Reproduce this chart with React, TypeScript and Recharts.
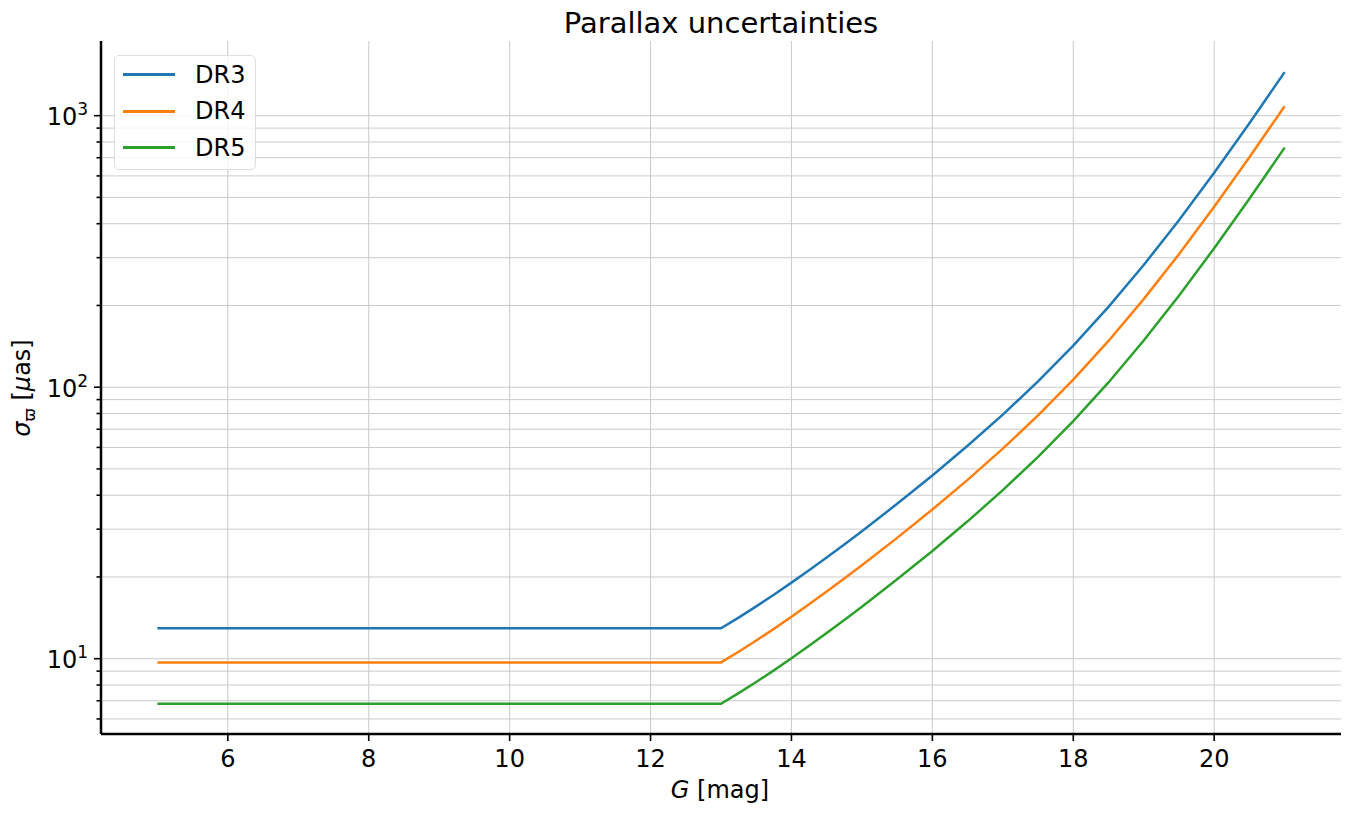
import React from 'react';
import { LineChart, Line, XAxis, YAxis, ReferenceLine } from 'recharts';

// G magnitude grid and parallax uncertainties (µas)
const gMag = [5, 13, 13.25, 13.5, 13.75, 14, 14.25, 14.5, 14.75, 15, 15.5, 16, 16.5, 17, 17.5, 18, 18.5, 19, 19.5, 20, 20.5, 21];
const dr3 = [12.94, 12.94, 14.17, 15.58, 17.2, 19.06, 21.18, 23.59, 26.35, 29.5, 37.19, 47.32, 60.83, 79.26, 105.07, 142.3, 197.6, 281.8, 412.3, 616.5, 938.3, 1447];
const dr4 = [9.69, 9.69, 10.61, 11.67, 12.88, 14.28, 15.86, 17.67, 19.74, 22.1, 27.86, 35.44, 45.56, 59.37, 78.7, 106.6, 148.0, 211.1, 308.8, 461.8, 702.8, 1083.8];
const dr5 = [6.82, 6.82, 7.47, 8.21, 9.06, 10.04, 11.16, 12.43, 13.89, 15.55, 19.6, 24.94, 32.06, 41.77, 55.37, 74.99, 104.1, 148.5, 217.3, 324.9, 494.5, 762.6];

const xTicks = [6, 8, 10, 12, 14, 16, 18, 20];
const yTicks = [6, 7, 8, 9, 10, 20, 30, 40, 50, 60, 70, 80, 90, 100, 200, 300, 400, 500, 600, 700, 800, 900, 1000];
const yMajor = [10, 100, 1000];

const series = [
  { key: 'DR3', color: '#1f77b4' },
  { key: 'DR4', color: '#ff7f0e' },
  { key: 'DR5', color: '#2ca02c' },
];

const data = gMag.map((g, i) => ({ g, DR3: dr3[i], DR4: dr4[i], DR5: dr5[i] }));

const FONT = 'DejaVu Sans';
const GRID = '#cbcbcb';
const AXIS_X = 101;
const AXIS_Y = 734;

function YTick(props: any) {
  const { y, payload } = props;
  const v = payload.value;
  const major = yMajor.includes(v);
  const len = major ? 7 : 4.5;
  return (
    <g>
      <line x1={AXIS_X - len} x2={AXIS_X} y1={y} y2={y} stroke="#000" strokeWidth={1.6} />
      {major && (
        <text x={AXIS_X - 13} y={y} dy={9.5} textAnchor="end" fontSize={24} fontFamily={FONT} fill="#000">
          10<tspan dy={-10} fontSize={17}>{Math.round(Math.log10(v))}</tspan>
        </text>
      )}
    </g>
  );
}

function XTick(props: any) {
  const { x, payload } = props;
  return (
    <g>
      <line x1={x} x2={x} y1={AXIS_Y} y2={AXIS_Y + 7} stroke="#000" strokeWidth={1.6} />
      <text x={x} y={AXIS_Y + 33} textAnchor="middle" fontSize={24} fontFamily={FONT} fill="#000">
        {payload.value}
      </text>
    </g>
  );
}

function LegendBox() {
  return (
    <div
      style={{
        position: 'absolute',
        left: 114,
        top: 55,
        width: 142,
        height: 115,
        border: '1px solid #dedede',
        borderRadius: 5,
        background: 'rgba(255,255,255,0.8)',
        boxSizing: 'border-box',
        fontFamily: FONT,
        fontSize: 24,
        paddingTop: 0.5,
      }}
    >
      {series.map((s) => (
        <div key={s.key} style={{ display: 'flex', alignItems: 'center', height: 36.5 }}>
          <div style={{ width: 52, height: 2.8, background: s.color, marginLeft: 8, marginRight: 20 }} />
          <span style={{ lineHeight: '24px' }}>{s.key}</span>
        </div>
      ))}
    </div>
  );
}

export default function App() {
  return (
    <div style={{ position: 'absolute', left: 0, top: 0, width: 1350, height: 815, background: '#fff' }}>
      <LineChart width={1350} height={815} data={data} margin={{ top: 41, right: 9, left: 0, bottom: 0 }}>
        {/* grid at tick values only, no frame lines on the plot edges */}
        {xTicks.map((t) => (
          <ReferenceLine key={`gx${t}`} x={t} stroke={GRID} strokeWidth={1} />
        ))}
        {yTicks.map((t) => (
          <ReferenceLine key={`gy${t}`} y={t} stroke={GRID} strokeWidth={1} />
        ))}
        <XAxis
          dataKey="g"
          type="number"
          domain={[4.2, 21.8]}
          ticks={xTicks}
          interval={0}
          height={81}
          axisLine={{ stroke: '#000', strokeWidth: 2.5 }}
          tickLine={false}
          tick={<XTick />}
        />
        <YAxis
          type="number"
          scale="log"
          domain={[5.28, 1884]}
          allowDataOverflow
          ticks={yTicks}
          interval={0}
          width={101}
          axisLine={{ stroke: '#000', strokeWidth: 2.5 }}
          tickLine={false}
          tick={<YTick />}
        />
        {series.map((s) => (
          <Line
            key={s.key}
            dataKey={s.key}
            type="linear"
            stroke={s.color}
            strokeWidth={2.5}
            dot={false}
            activeDot={false}
            isAnimationActive={false}
          />
        ))}
        <text x={721} y={33} textAnchor="middle" fontSize={29} fontFamily={FONT} fill="#000">
          Parallax uncertainties
        </text>
        <text x={720} y={798} textAnchor="middle" fontSize={24} fontFamily={FONT} fill="#000">
          <tspan fontStyle="italic">G</tspan> [mag]
        </text>
        <text
          x={30}
          y={388}
          textAnchor="middle"
          fontSize={24}
          fontFamily={FONT}
          fill="#000"
          transform="rotate(-90 30 388)"
        >
          <tspan fontStyle="italic">σ</tspan>
          <tspan fontSize={16} dy={5}>ϖ</tspan>
          <tspan dy={-5}> [</tspan>
          <tspan fontStyle="italic">μ</tspan>
          <tspan>as]</tspan>
        </text>
      </LineChart>
      <LegendBox />
    </div>
  );
}
